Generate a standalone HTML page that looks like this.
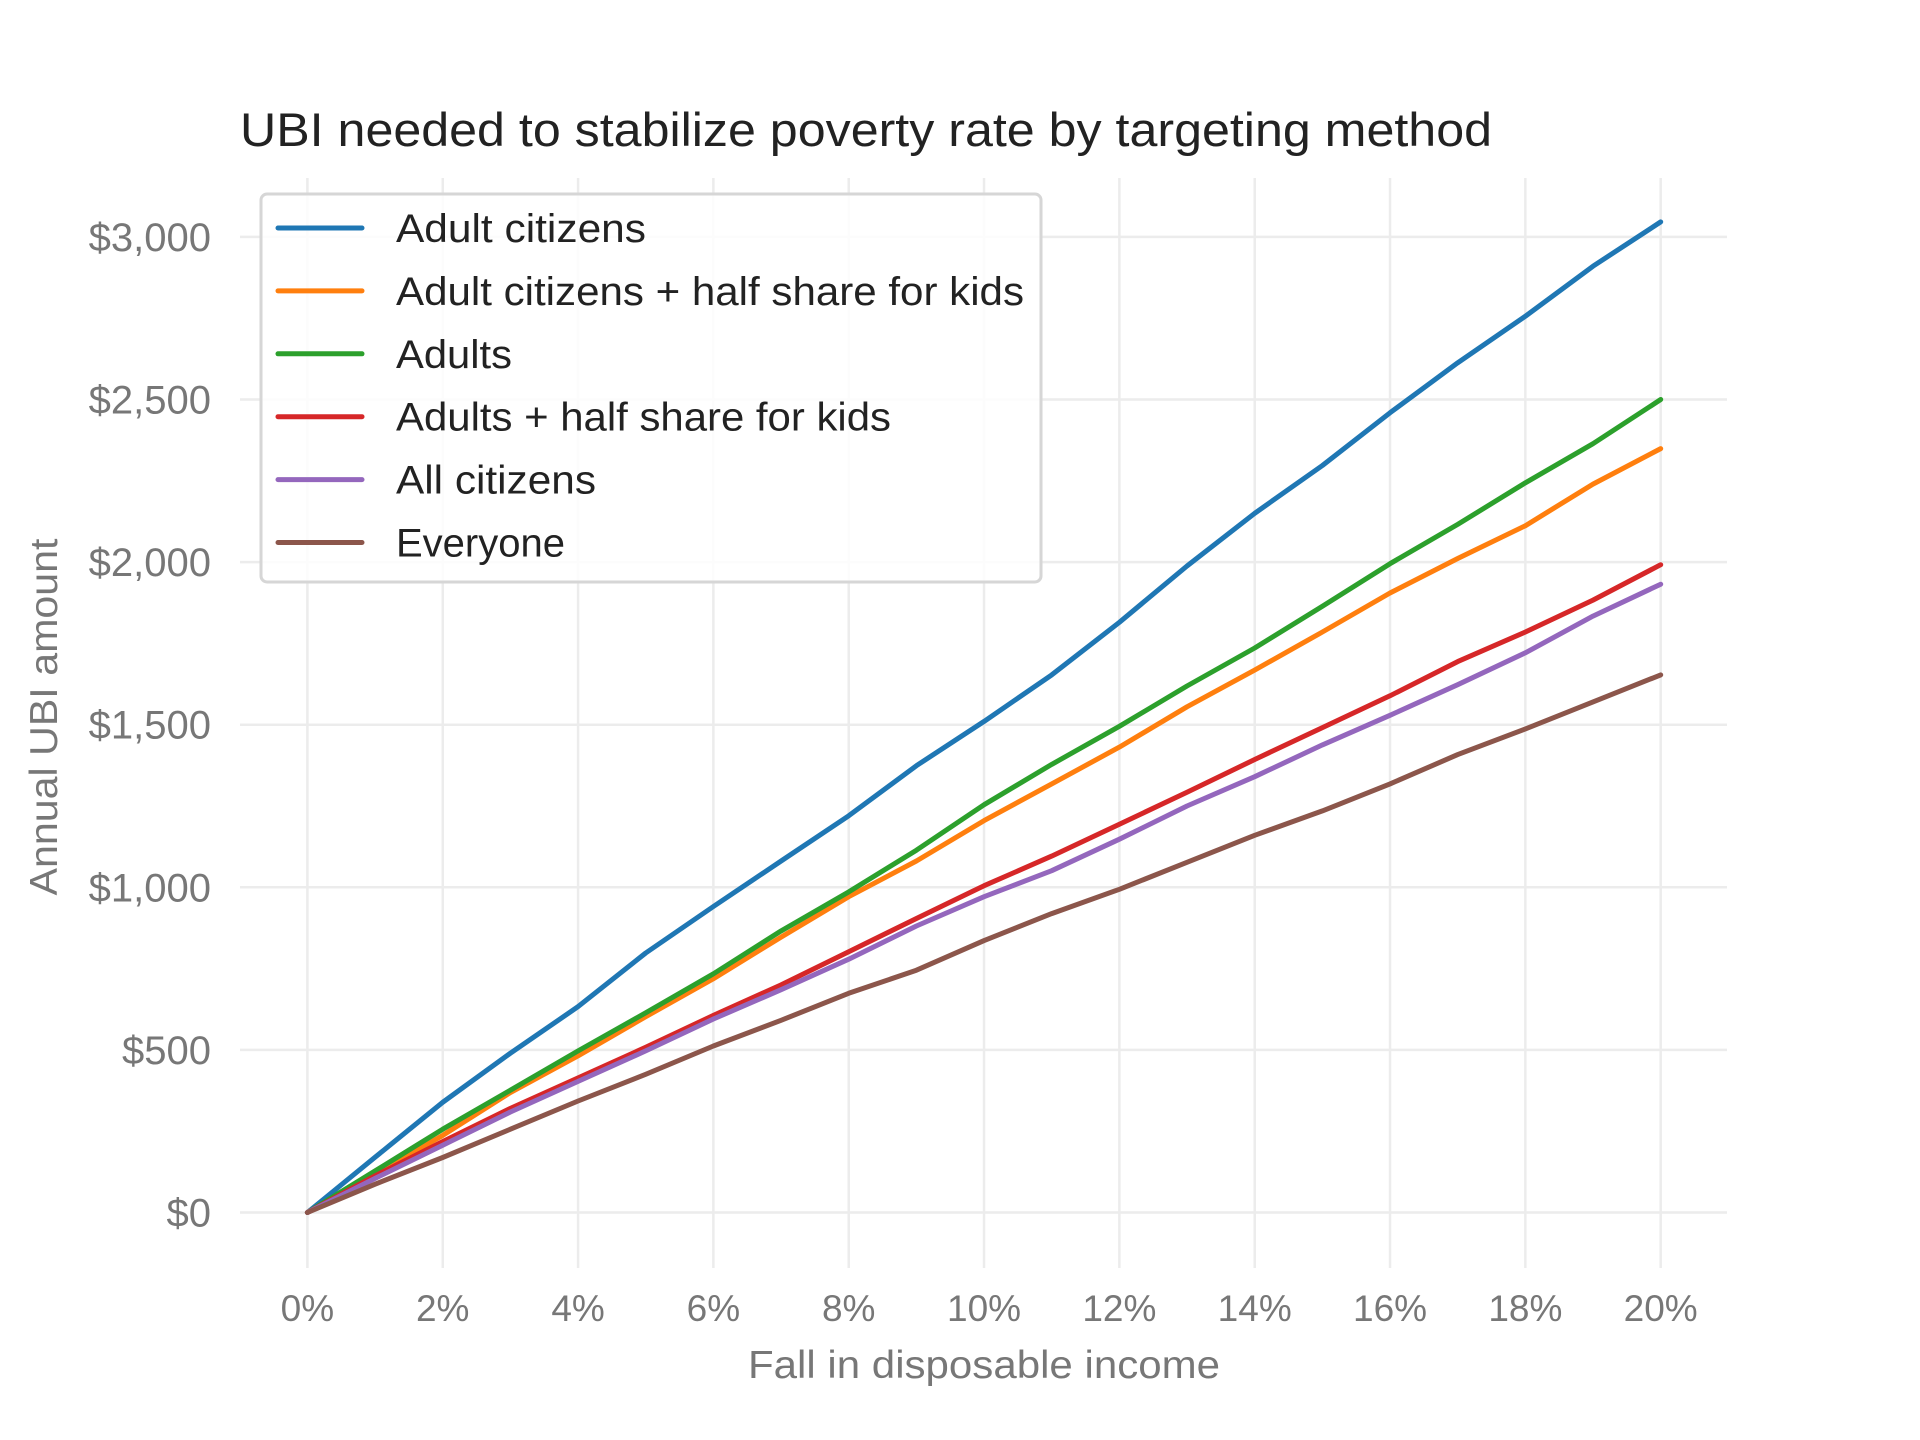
<!DOCTYPE html>
<html><head><meta charset="utf-8"><style>
html,body{margin:0;padding:0;background:#fff;}
svg{display:block;font-family:"Liberation Sans",sans-serif;}
</style></head><body>
<svg id="chart" width="1920" height="1440" viewBox="0 0 1920 1440">
<rect width="1920" height="1440" fill="#fff"/>
<text x="240" y="146" font-size="47" fill="#222" textLength="1252" lengthAdjust="spacingAndGlyphs">UBI needed to stabilize poverty rate by targeting method</text>
<g id="grid"></g>
<g id="yticks"></g>
<g id="xticks"></g>
<g id="series"></g>
<text x="984" y="1378" font-size="39" fill="#777" text-anchor="middle" textLength="472" lengthAdjust="spacingAndGlyphs">Fall in disposable income</text>
<text transform="translate(57,717) rotate(-90)" font-size="39" fill="#777" text-anchor="middle" textLength="357" lengthAdjust="spacingAndGlyphs">Annual UBI amount</text>
<g id="legend"></g>
</svg>
<script>
const xCats = [0,1,2,3,4,5,6,7,8,9,10,11,12,13,14,15,16,17,18,19,20];
const xTicks = [0,2,4,6,8,10,12,14,16,18,20];
const yTicks = [0,500,1000,1500,2000,2500,3000];
const seriesNames = ["Adult citizens","Adult citizens + half share for kids","Adults","Adults + half share for kids","All citizens","Everyone"];
const seriesColors = ["#1f77b4","#ff7f0e","#2ca02c","#d62728","#9467bd","#8c564b"];
const adultCitizens = [0,170,339,490,633,798,941,1081,1220,1374,1510,1653,1815,1988,2150,2297,2459,2613,2756,2910,3046];
const adultCitizensHalfKids = [0,118,237,369,482,602,719,847,971,1081,1205,1318,1431,1555,1668,1785,1905,2011,2112,2240,2349];
const adults = [0,128,256,376,497,614,734,866,986,1114,1254,1378,1495,1619,1736,1864,1995,2116,2244,2364,2500];
const adultsHalfKids = [0,113,218,320,414,508,606,700,802,904,1005,1096,1194,1292,1393,1491,1589,1694,1785,1883,1992];
const allCitizens = [0,105,207,309,403,497,595,685,779,881,971,1051,1148,1250,1340,1438,1529,1623,1721,1834,1932];
const everyone = [0,87,169,256,343,425,512,591,674,745,836,919,994,1077,1160,1235,1318,1408,1487,1570,1653];
const allSeries = [adultCitizens,adultCitizensHalfKids,adults,adultsHalfKids,allCitizens,everyone];
const legendWidths = [250,628,116,495,200,169];

const NS="http://www.w3.org/2000/svg";
const X0=307.4, X1=1660.7, Y0=1212.5, YPER=162.6/500;
function xs(v){return X0+(v-0)*(X1-X0)/20;}
function ys(v){return Y0-v*YPER;}
function mk(tag,attrs,parent){const e=document.createElementNS(NS,tag);for(const k in attrs)e.setAttribute(k,attrs[k]);parent.appendChild(e);return e;}
const grid=document.getElementById('grid'), yt=document.getElementById('yticks'), xt=document.getElementById('xticks');
const series=document.getElementById('series'), legend=document.getElementById('legend');
for(const t of xTicks){
  const l=mk('line',{x1:xs(t),x2:xs(t),y1:178,y2:1268,stroke:'#ececec','stroke-width':2.5},grid);
  
  
  const tx=mk('text',{x:xs(t),y:1321,'font-size':37,fill:'#777','text-anchor':'middle'},xt);
  tx.textContent=t+'%';
  
  
}
for(const t of yTicks){
  const l=mk('line',{x1:240,x2:1727,y1:ys(t),y2:ys(t),stroke:'#ececec','stroke-width':2.5},grid);
  
  
  const tx=mk('text',{x:211,y:ys(t)+14,'font-size':40,fill:'#777','text-anchor':'end'},yt);
  tx.textContent='$'+t.toLocaleString('en-US');
  
  
}
allSeries.forEach((d,i)=>{
  const pts=d.map((v,j)=>xs(xCats[j]).toFixed(1)+','+ys(v).toFixed(1)).join(' ');
  const p=mk('polyline',{points:pts,fill:'none',stroke:seriesColors[i],'stroke-width':5,'stroke-linejoin':'round','stroke-linecap':'round'},series);
  
  
});
const box=mk('rect',{x:261,y:194,width:780,height:388,rx:6,fill:'#fff','fill-opacity':0.85,stroke:'#d6d6d6','stroke-width':3},legend);


seriesNames.forEach((n,i)=>{
  const y=228+i*62.9;
  const g=mk('g',{},legend);
  
  
  mk('line',{x1:278,x2:362,y1:y,y2:y,stroke:seriesColors[i],'stroke-width':5,'stroke-linecap':'round'},g);
  const t=mk('text',{x:396,y:y+14,'font-size':40,fill:'#222',textLength:legendWidths[i],lengthAdjust:'spacingAndGlyphs'},g);
  t.textContent=n;
});
</script>
</body></html>
